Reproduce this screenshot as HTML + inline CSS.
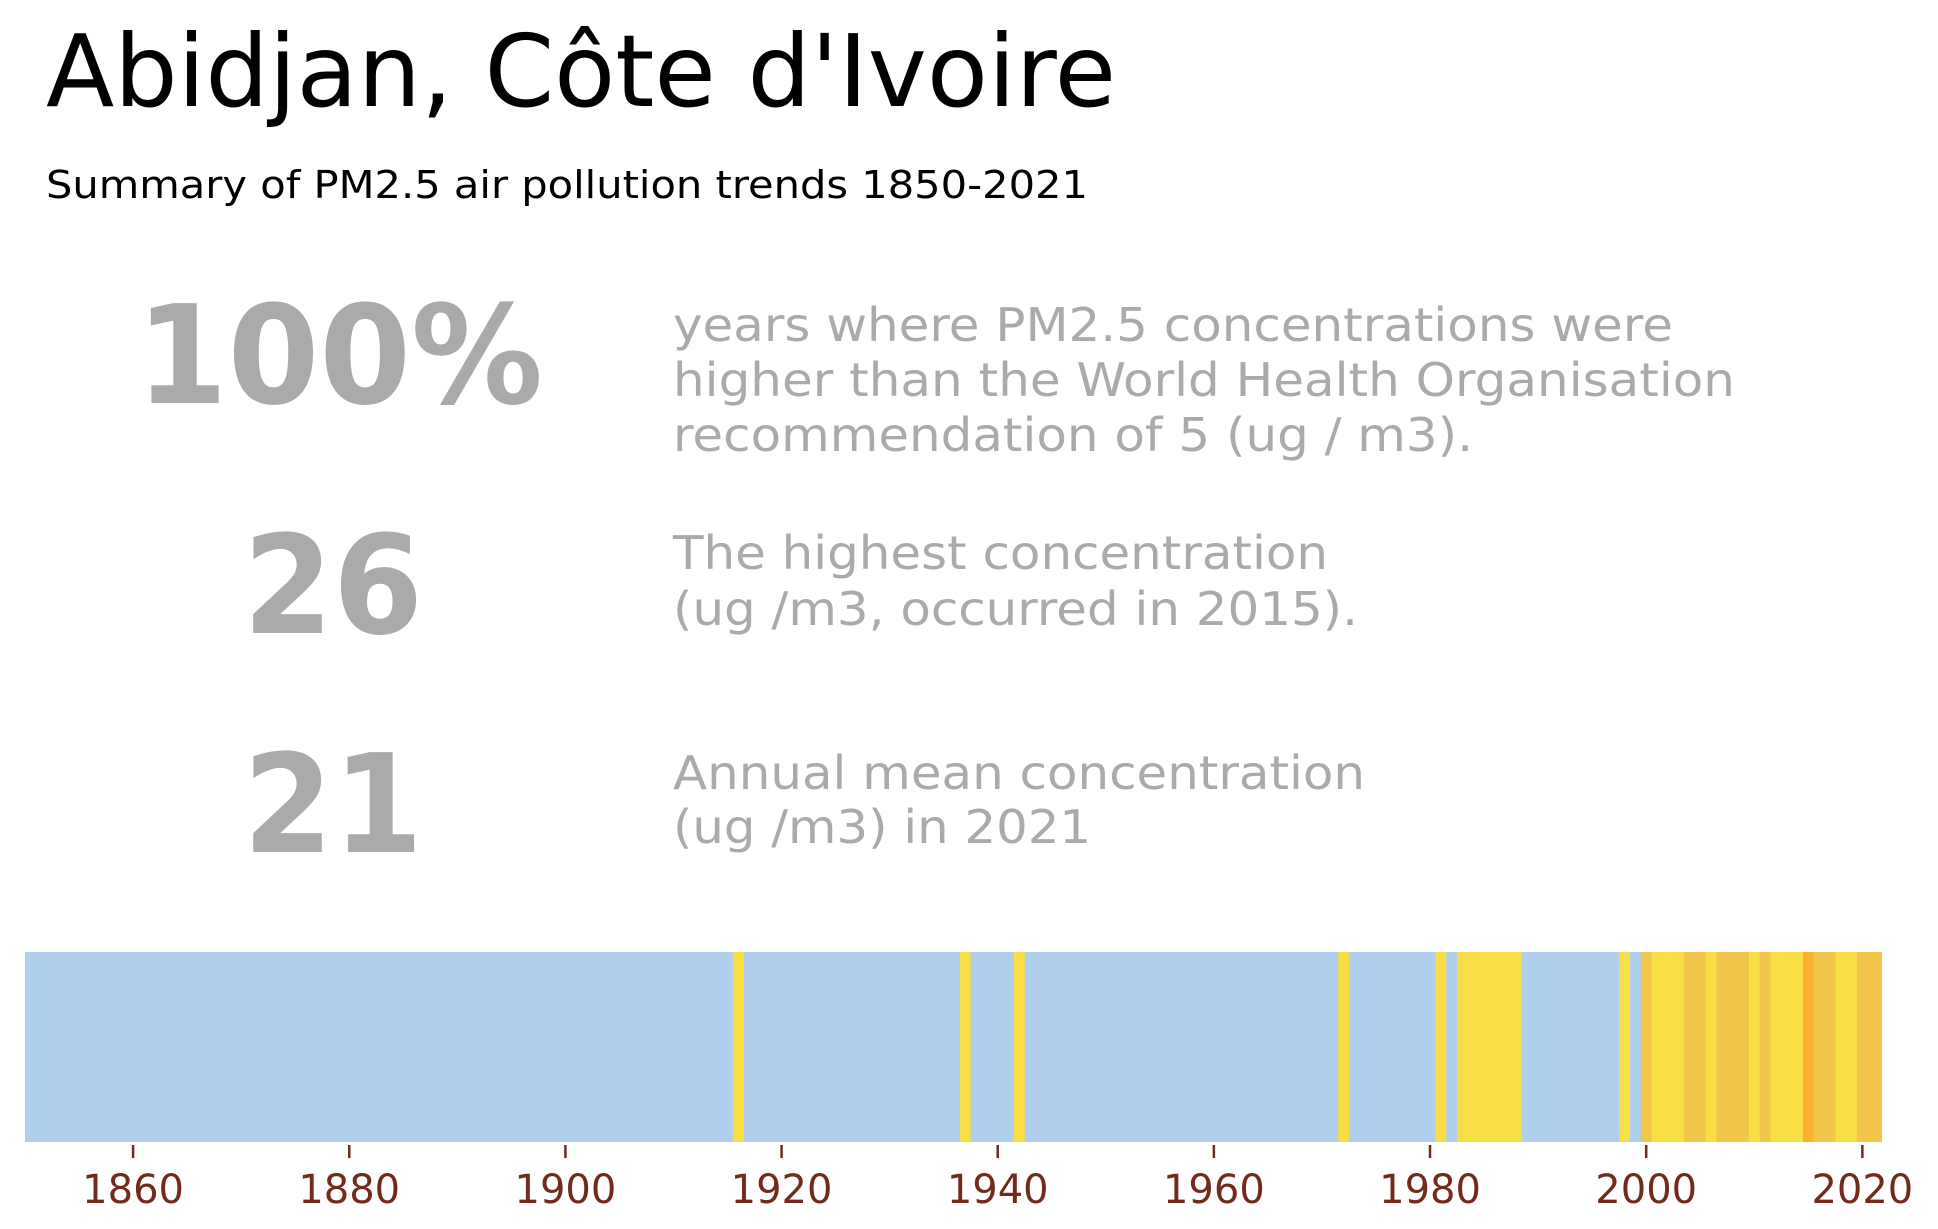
<!DOCTYPE html>
<html><head><meta charset="utf-8"><style>
html,body{margin:0;padding:0;background:#fff;}
svg{display:block;font-family:"DejaVu Sans","Liberation Sans",sans-serif;}
</style></head><body>
<svg id="chart" width="1938" height="1229" viewBox="0 0 1938 1229">
<text x="46" y="106" font-size="100" fill="#000" textLength="1070" lengthAdjust="spacingAndGlyphs">Abidjan, Côte d'Ivoire</text>
<text x="46" y="198" font-size="38" fill="#000" textLength="1042" lengthAdjust="spacingAndGlyphs">Summary of PM2.5 air pollution trends 1850-2021</text>

<text x="136" y="403" font-size="137" font-weight="bold" fill="#aaaaaa" textLength="407" lengthAdjust="spacingAndGlyphs">100%</text>
<g fill="#aaaaaa" font-size="46">
<text x="673" y="341" textLength="1000" lengthAdjust="spacingAndGlyphs">years where PM2.5 concentrations were</text>
<text x="673" y="396" textLength="1062" lengthAdjust="spacingAndGlyphs">higher than the World Health Organisation</text>
<text x="673" y="451" textLength="800" lengthAdjust="spacingAndGlyphs">recommendation of 5 (ug / m3).</text>
</g>

<text x="243" y="633" font-size="137" font-weight="bold" fill="#aaaaaa" textLength="180" lengthAdjust="spacingAndGlyphs">26</text>
<g fill="#aaaaaa" font-size="46">
<text x="673" y="569" textLength="655" lengthAdjust="spacingAndGlyphs">The highest concentration</text>
<text x="673" y="625" textLength="685" lengthAdjust="spacingAndGlyphs">(ug /m3, occurred in 2015).</text>
</g>

<text x="243" y="852" font-size="137" font-weight="bold" fill="#aaaaaa" textLength="180" lengthAdjust="spacingAndGlyphs">21</text>
<g fill="#aaaaaa" font-size="46">
<text x="673" y="789" textLength="692" lengthAdjust="spacingAndGlyphs">Annual mean concentration</text>
<text x="673" y="843" textLength="418" lengthAdjust="spacingAndGlyphs">(ug /m3) in 2021</text>
</g>

<defs><clipPath id="stripClip"><rect x="25" y="952" width="1857" height="190"/></clipPath></defs>
<g id="stripes" clip-path="url(#stripClip)"></g>
<g id="axis"></g>
</svg>
<script>
const startYear = 1850;
const values = [
11,11,11,11,11,11,11,11,11,11,
11,11,11,11,11,11,11,11,11,11,
11,11,11,11,11,11,11,11,11,11,
12,12,12,12,12,12,12,12,12,12,
12,12,12,12,12,12,12,12,12,12,
12,12,13,13,13,13,13,13,13,13,
13,13,14,14,14,14,16,14,14,14,
14,14,14,14,14,14,14,14,14,14,
14,14,14,14,14,14,14,16,15,15,
15,15,16,15,15,15,15,15,15,15,
15,15,15,15,15,15,15,15,15,15,
15,15,15,15,15,15,15,15,15,15,
15,15,16,15,15,15,15,15,15,15,
15,16,15,17,17,17,17,17,16,15,
15,15,15,15,15,15,15,15,16,15,
20,18,19,19,20,20,19,21,21,21,
19,20,19,19,19,26,21,21,19,19,
20,21
];
const tickYears = [1860,1880,1900,1920,1940,1960,1980,2000,2020];
const tickLabels = ["1860","1880","1900","1920","1940","1960","1980","2000","2020"];

const NS = "http://www.w3.org/2000/svg";
const X0 = 25, PX = 10.808, TOP = 952, BOT = 1142;
function xScale(v){ return X0 + (v - 1850) * PX; }
function colorFor(v){
  if (v < 16) return "#b0cfed";
  if (v < 20) return "#f8df46";
  if (v < 25) return "#f2c64b";
  return "#fbb12f";
}
const sg = document.getElementById("stripes");
values.forEach(function(v, i){
  const yr = startYear + i;
  const r = document.createElementNS(NS, "rect");
  const x = xScale(yr - 0.5);
  let w = PX + 0.6;
  if (i === values.length - 1) w = PX * 1.5;
  r.setAttribute("x", x.toFixed(2));
  r.setAttribute("y", TOP);
  r.setAttribute("width", w.toFixed(2));
  r.setAttribute("height", BOT - TOP);
  r.setAttribute("fill", colorFor(v));
  
  
  sg.appendChild(r);
});
const ag = document.getElementById("axis");
tickYears.forEach(function(t, i){
  const x = xScale(t);
  const l = document.createElementNS(NS, "line");
  l.setAttribute("x1", x); l.setAttribute("x2", x);
  l.setAttribute("y1", 1145); l.setAttribute("y2", 1158);
  l.setAttribute("stroke", "#722a1c"); l.setAttribute("stroke-width", "2.5");
  
  
  ag.appendChild(l);
  const tx = document.createElementNS(NS, "text");
  tx.setAttribute("x", x); tx.setAttribute("y", 1203);
  tx.setAttribute("text-anchor", "middle");
  tx.setAttribute("font-size", "40");
  tx.setAttribute("fill", "#722a1c");
  tx.textContent = tickLabels[i];
  
  
  ag.appendChild(tx);
});
</script>
</body></html>
